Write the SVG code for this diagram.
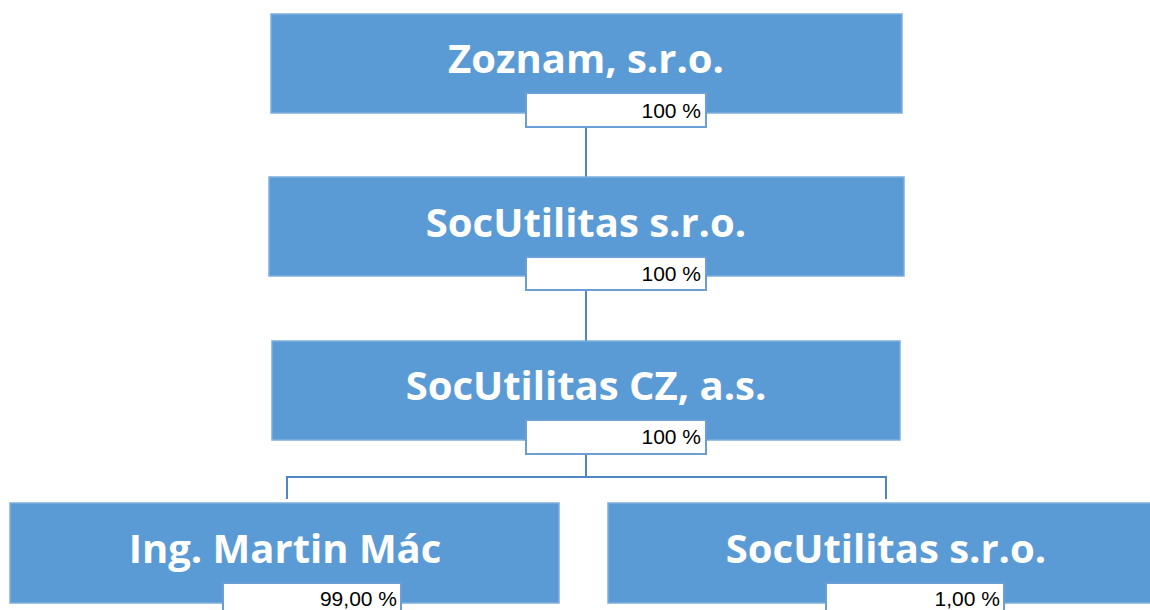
<svg xmlns="http://www.w3.org/2000/svg" width="1150" height="610" viewBox="0 0 1150 610">
<style>
.box{fill:#5B9BD5;stroke:#7FAEDD;stroke-width:1.5}
.lbl{fill:#FFFFFF;stroke:#6A9FD6;stroke-width:2}
.name{font-family:"Open Sans","Noto Sans",sans-serif;font-weight:bold;font-size:40px;fill:#FFFFFF;text-anchor:middle}
.pct{font-family:"Liberation Sans",Arial,sans-serif;font-size:21px;fill:#000000;text-anchor:end}
.conn{fill:none;stroke:#4F87C5;stroke-width:2}
</style>
<rect width="1150" height="610" fill="#FFFFFF"/>
<g id="connectors">
<line class="conn" x1="586" y1="127" x2="586" y2="177"/>
<line class="conn" x1="586" y1="290" x2="586" y2="341"/>
<polyline class="conn" points="586,454 586,477"/>
<polyline class="conn" points="287,499 287,477 886,477 886,499"/>
</g>
<g id="n1">
<rect class="box" x="271" y="14" width="631" height="99"/>
<text class="name" x="586" y="73">Zoznam, s.r.o.</text>
<rect class="lbl" x="526" y="93" width="180" height="34"/>
<text class="pct" x="701" y="118">100 %</text>
</g>
<g id="n2">
<rect class="box" x="269" y="177" width="635" height="99"/>
<text class="name" x="586" y="237">SocUtilitas s.r.o.</text>
<rect class="lbl" x="526" y="257" width="180" height="33"/>
<text class="pct" x="701" y="281">100 %</text>
</g>
<g id="n3">
<rect class="box" x="272" y="341" width="628" height="99"/>
<text class="name" x="586" y="400">SocUtilitas CZ, a.s.</text>
<rect class="lbl" x="526" y="420" width="180" height="34"/>
<text class="pct" x="701" y="444">100 %</text>
</g>
<g id="n4">
<rect class="box" x="10" y="503" width="549" height="100"/>
<text class="name" x="285" y="563">Ing. Martin Mác</text>
<rect class="lbl" x="223" y="583" width="178" height="34"/>
<text class="pct" x="397" y="606">99,00 %</text>
</g>
<g id="n5">
<rect class="box" x="608" y="503" width="550" height="100"/>
<text class="name" x="886" y="563">SocUtilitas s.r.o.</text>
<rect class="lbl" x="826" y="583" width="178" height="34"/>
<text class="pct" x="1000" y="606">1,00 %</text>
</g>
</svg>
